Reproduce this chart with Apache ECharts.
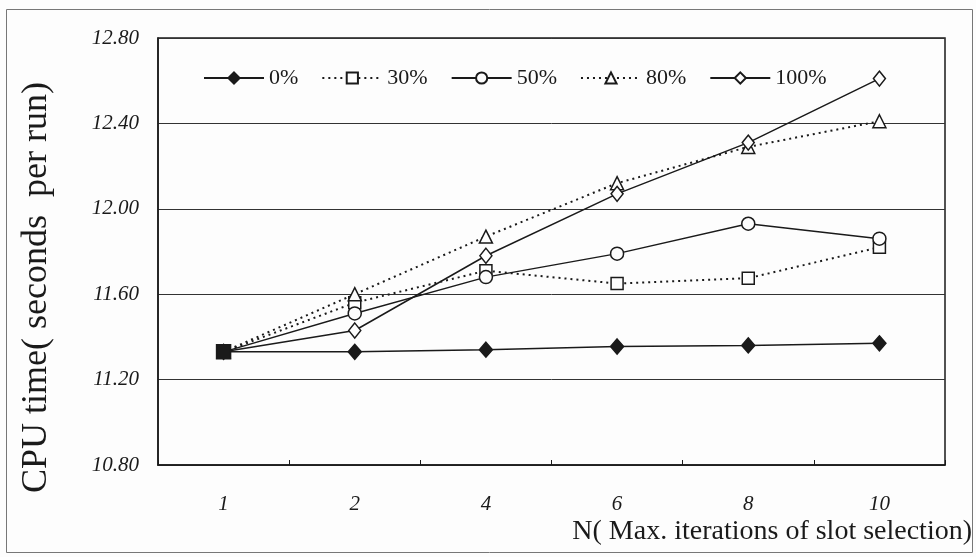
<!DOCTYPE html>
<html>
<head>
<meta charset="utf-8">
<script src="https://cdn.jsdelivr.net/npm/echarts@6/dist/echarts.min.js"></script>
<style>html,body{margin:0;padding:0;background:#fdfdfd;}#c{width:976px;height:557px;}</style>
</head>
<body>
<div id="c"></div>
<script>
var categories = ['1', '2', '4', '6', '8', '10'];
var s0 = [11.33, 11.33, 11.34, 11.355, 11.36, 11.37];
var s30 = [11.33, 11.56, 11.71, 11.65, 11.675, 11.82];
var s50 = [11.33, 11.51, 11.68, 11.79, 11.93, 11.86];
var s80 = [11.33, 11.60, 11.87, 12.12, 12.29, 12.41];
var s100 = [11.33, 11.43, 11.78, 12.07, 12.31, 12.61];
var seriesNames = ['0%', '30%', '50%', '80%', '100%'];
var yTicks = { min: 10.8, max: 12.8, interval: 0.4 };

var serif = '"Liberation Serif", "DejaVu Serif", serif';
var ink = '#1a1a1a';

function mk(name, data, symbol, size, dotted, filled) {
  return {
    name: name, type: 'line', data: data.slice(),
    symbol: symbol, symbolSize: size, showSymbol: true,
    lineStyle: { color: ink, width: dotted ? 2 : 1.5, type: dotted ? [2, 4] : 'solid' },
    itemStyle: { color: filled ? ink : '#fdfdfd', borderColor: ink, borderWidth: 1.5 },
    emphasis: { disabled: true },
    animation: false
  };
}

var series = [
  mk(seriesNames[0], s0, 'diamond', [13, 15], false, true),
  mk(seriesNames[1], s30, 'rect', 12, true, false),
  mk(seriesNames[2], s50, 'circle', 13, false, false),
  mk(seriesNames[3], s80, 'triangle', 13, true, false),
  mk(seriesNames[4], s100, 'diamond', [12, 15], false, false)
];
// overlapping first point appears as a filled black square
series[4].data[0] = { value: s100[0], symbol: 'rect', symbolSize: 14, itemStyle: { color: ink, borderColor: ink } };

var chart = echarts.init(document.getElementById('c'));
chart.setOption({
  backgroundColor: '#fdfdfd',
  animation: false,
  grid: { left: 158, right: 31, top: 38, bottom: 92, show: true, borderColor: ink, borderWidth: 1.5, backgroundColor: 'transparent' },
  legend: {
    data: seriesNames, left: 198, top: 62, itemWidth: 60, itemHeight: 14, itemGap: 23,
    textStyle: { fontFamily: serif, fontSize: 22, color: ink }
  },
  xAxis: {
    type: 'category', data: categories, boundaryGap: true,
    axisLine: { lineStyle: { color: ink, width: 1.5 } },
    axisTick: { show: true, inside: true, length: 5, lineStyle: { color: ink } },
    axisLabel: { margin: 29, fontFamily: serif, fontStyle: 'italic', fontSize: 21, color: ink },
    name: 'N( Max. iterations of slot selection)', nameLocation: 'end', nameGap: 27,
    nameTextStyle: { fontFamily: serif, fontSize: 28, color: ink, align: 'right', verticalAlign: 'top', padding: [53, 0, 0, 0] }
  },
  yAxis: {
    type: 'value', min: yTicks.min, max: yTicks.max, interval: yTicks.interval,
    axisLine: { show: true, lineStyle: { color: ink, width: 1.5 } },
    axisTick: { show: false },
    splitLine: { show: true, lineStyle: { color: '#333', width: 1 } },
    axisLabel: { margin: 19, fontFamily: serif, fontStyle: 'italic', fontSize: 21, color: ink, formatter: function (v) { return v.toFixed(2); } },
    name: 'CPU time( seconds  per run)', nameLocation: 'middle', nameGap: 103, nameRotate: 90,
    nameTextStyle: { fontFamily: serif, fontSize: 36, color: ink, padding: [0, 72, 0, 0] }
  },
  graphic: [{
    type: 'rect', shape: { x: 6.5, y: 9.5, width: 966, height: 543 },
    style: { fill: 'none', stroke: '#777', lineWidth: 1 }, silent: true, z: -1
  }],
  series: series
});
</script>
</body>
</html>
